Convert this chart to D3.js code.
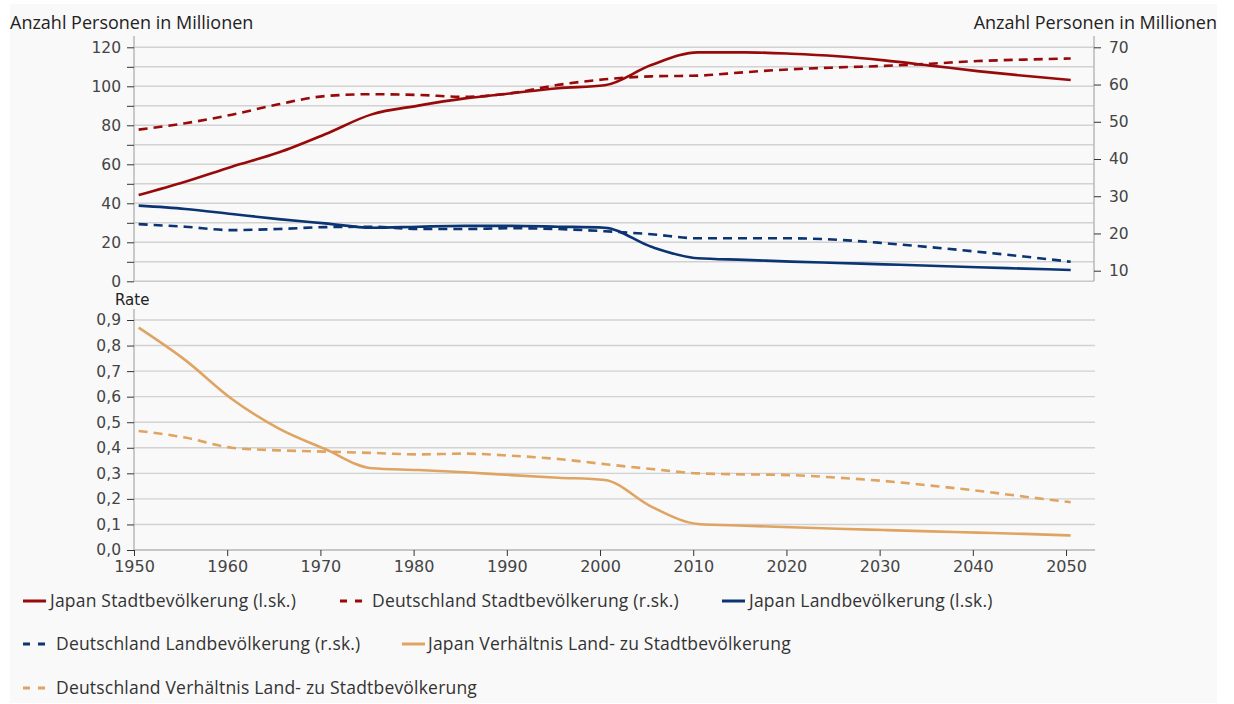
<!DOCTYPE html>
<html>
<head>
<meta charset="utf-8">
<script src="https://cdn.jsdelivr.net/npm/d3@7"></script>
<style>
  body { margin: 0; background: #fff; }
  svg { display: block; font-family: "Open Sans", sans-serif; }
  .grid line { stroke: #d2d2d2; stroke-width: 1.4; }
  .axis path { stroke: #b5b5b5; stroke-width: 1.4; }
  .axis line { stroke: #333; }
  .axis text { fill: #444; font-size: 15.5px; font-family: "DejaVu Sans", sans-serif; }
</style>
</head>
<body>
<svg id="chart" width="1234" height="704"></svg>
<script>
// ---- data ----
const years = [1950, 1955, 1960, 1965, 1970, 1975, 1980, 1985, 1990, 1995, 2000,
               2005, 2010, 2015, 2020, 2025, 2030, 2035, 2040, 2045, 2050];

// upper panel, millions
const japanUrban = [44.3, 51.1, 58.8, 66.0, 75.4, 85.6, 90.1, 93.8, 96.4, 99.0, 100.5,
                    110.9, 117.4, 117.4, 116.7, 115.4, 113.3, 110.6, 107.8, 105.4, 103.2];
const germanyUrban = [47.9, 49.6, 51.9, 54.7, 56.9, 57.4, 57.2, 56.7, 57.7, 59.9, 61.4,
                      62.2, 62.4, 63.3, 64.1, 64.6, 65.0, 65.6, 66.3, 66.7, 67.0];
const japanRural = [38.8, 37.1, 34.5, 31.9, 29.7, 27.5, 28.0, 28.4, 28.4, 28.0, 27.5,
                    17.7, 11.8, 11.0, 10.1, 9.4, 8.7, 8.0, 7.2, 6.5, 5.8];
const germanyRural = [22.5, 21.8, 20.9, 21.2, 21.7, 21.8, 21.2, 21.2, 21.4, 21.2, 20.6,
                      19.8, 18.7, 18.7, 18.7, 18.3, 17.4, 16.3, 15.1, 13.8, 12.4];

// lower panel, rural / urban ratio
const japanRatio = [0.870, 0.743, 0.591, 0.476, 0.395, 0.320, 0.313, 0.304, 0.293, 0.283, 0.274,
                    0.170, 0.102, 0.095, 0.089, 0.083, 0.078, 0.073, 0.068, 0.063, 0.057];
const germanyRatio = [0.466, 0.440, 0.400, 0.390, 0.385, 0.380, 0.374, 0.377, 0.369, 0.356, 0.336,
                      0.317, 0.300, 0.296, 0.293, 0.283, 0.270, 0.252, 0.232, 0.209, 0.187];

const leftTicks = [0, 20, 40, 60, 80, 100, 120];
const leftMinorTicks = d3.range(0, 121, 10);
const rightTicks = [10, 20, 30, 40, 50, 60, 70];
const rateTicks = [0, 0.1, 0.2, 0.3, 0.4, 0.5, 0.6, 0.7, 0.8, 0.9];
const yearTicks = [1950, 1960, 1970, 1980, 1990, 2000, 2010, 2020, 2030, 2040, 2050];

const RED = '#980a0a', NAVY = '#0b3472', ORANGE = '#e0a462';
const DASH = '9,6';

const series = [
  { name: 'Japan Stadtbevölkerung (l.sk.)', values: japanUrban, color: RED, dashed: false, panel: 'top', axis: 'left' },
  { name: 'Deutschland Stadtbevölkerung (r.sk.)', values: germanyUrban, color: RED, dashed: true, panel: 'top', axis: 'right' },
  { name: 'Japan Landbevölkerung (l.sk.)', values: japanRural, color: NAVY, dashed: false, panel: 'top', axis: 'left' },
  { name: 'Deutschland Landbevölkerung (r.sk.)', values: germanyRural, color: NAVY, dashed: true, panel: 'top', axis: 'right' },
  { name: 'Japan Verhältnis Land- zu Stadtbevölkerung', values: japanRatio, color: ORANGE, dashed: false, panel: 'bottom', axis: 'left' },
  { name: 'Deutschland Verhältnis Land- zu Stadtbevölkerung', values: germanyRatio, color: ORANGE, dashed: true, panel: 'bottom', axis: 'left' }
];

// ---- layout ----
const svg = d3.select('#chart');
const plotLeft = 134, plotRight = 1094;

svg.append('rect')
    .attr('x', 10).attr('y', 4)
    .attr('width', 1207).attr('height', 699)
    .attr('fill', '#f9f9f9');

const x = d3.scaleLinear().domain([1950, 2053]).range([plotLeft, plotRight]);
// values are mid-year
const xPos = year => x(year + 0.5);

const yLeft = d3.scaleLinear().domain([0, 120]).range([281.3, 47.3]);
const yRight = d3.scaleLinear().domain([10, 70]).range([270.7, 47.3]);
const yRate = d3.scaleLinear().domain([0, 0.9]).range([550, 320]);

// ---- upper panel ----
const topPanel = svg.append('g');

topPanel.append('g').attr('class', 'grid')
    .selectAll('line')
    .data(leftMinorTicks.filter(d => d > 0))
    .enter().append('line')
    .attr('x1', plotLeft).attr('x2', plotRight)
    .attr('y1', d => yLeft(d)).attr('y2', d => yLeft(d));

topPanel.append('line')
    .attr('x1', plotLeft).attr('x2', plotRight)
    .attr('y1', yLeft(0)).attr('y2', yLeft(0))
    .attr('stroke', '#c8c8c8').attr('stroke-width', 1.6);

// left axis: short ticks every 10, labels every 20
const leftAxis = topPanel.append('g').attr('class', 'axis')
    .attr('transform', `translate(${plotLeft},0)`)
    .call(d3.axisLeft(yLeft).tickValues(leftMinorTicks).tickSize(7).tickPadding(6)
        .tickFormat(d => leftTicks.includes(d) ? d : ''));
leftAxis.select('.domain').attr('d', `M0,36V${yLeft(0)}`);

const rightAxis = topPanel.append('g').attr('class', 'axis')
    .attr('transform', `translate(${plotRight},0)`)
    .call(d3.axisRight(yRight).tickValues(rightTicks).tickSize(7).tickPadding(8));
rightAxis.select('.domain').attr('d', `M0,36V${yLeft(0)}`);
rightAxis.selectAll('text').attr('fill', '#222');

// ---- lower panel ----
const bottomPanel = svg.append('g');

bottomPanel.append('g').attr('class', 'grid')
    .selectAll('line')
    .data(rateTicks.filter(d => d > 0))
    .enter().append('line')
    .attr('x1', plotLeft).attr('x2', plotRight + 1)
    .attr('y1', d => yRate(d)).attr('y2', d => yRate(d));

const rateAxis = bottomPanel.append('g').attr('class', 'axis')
    .attr('transform', `translate(${plotLeft},0)`)
    .call(d3.axisLeft(yRate).tickValues(rateTicks).tickSize(7).tickPadding(6)
        .tickFormat(d => d3.format('.1f')(d).replace('.', ',')));
rateAxis.select('.domain').attr('d', `M0,309V${yRate(0)}`);

const xAxis = bottomPanel.append('g').attr('class', 'axis')
    .attr('transform', `translate(0,${yRate(0)})`)
    .call(d3.axisBottom(x).tickValues(yearTicks).tickSize(6).tickPadding(5).tickFormat(d3.format('d')));
xAxis.select('.domain').attr('d', `M${plotLeft},0H${plotRight + 1}`)
    .attr('stroke', '#c8c8c8').attr('stroke-width', 2);
xAxis.selectAll('text').attr('fill', '#222').style('font-size', '16px');

// ---- lines ----
const scaleFor = s => s.panel === 'bottom' ? yRate : (s.axis === 'right' ? yRight : yLeft);

svg.append('g').selectAll('path')
    .data(series)
    .enter().append('path')
    .attr('fill', 'none')
    .attr('stroke', d => d.color)
    .attr('stroke-width', 2.6)
    .attr('stroke-dasharray', d => d.dashed ? DASH : null)
    .attr('d', s => {
        const yS = scaleFor(s);
        return d3.line()
            .x((v, i) => xPos(years[i]))
            .y(v => yS(v))
            .curve(d3.curveMonotoneX)(s.values);
    });

// ---- titles ----
svg.append('text').attr('x', 10).attr('y', 29)
    .attr('font-size', 18).attr('fill', '#222')
    .text('Anzahl Personen in Millionen');
svg.append('text').attr('x', 1217).attr('y', 29)
    .attr('text-anchor', 'end')
    .attr('font-size', 18).attr('fill', '#222')
    .text('Anzahl Personen in Millionen');
svg.append('text').attr('x', 115).attr('y', 304.5)
    .attr('font-family', '"DejaVu Sans", sans-serif')
    .attr('font-size', 15).attr('fill', '#222')
    .text('Rate');

// ---- legend ----
const legendPos = [
  { sx: 23, tx: 50, y: 601 },
  { sx: 340, tx: 372, y: 601 },
  { sx: 722, tx: 749, y: 601 },
  { sx: 23, tx: 56, y: 644 },
  { sx: 402, tx: 428, y: 644 },
  { sx: 23, tx: 56, y: 688 }
];

const legend = svg.append('g').selectAll('g')
    .data(series)
    .enter().append('g');

legend.append('line')
    .attr('x1', (d, i) => legendPos[i].sx)
    .attr('x2', (d, i) => legendPos[i].sx + 23)
    .attr('y1', (d, i) => legendPos[i].y)
    .attr('y2', (d, i) => legendPos[i].y)
    .attr('stroke', d => d.color)
    .attr('stroke-width', 3)
    .attr('stroke-dasharray', d => d.dashed ? '7,8' : null);

legend.append('text')
    .attr('x', (d, i) => legendPos[i].tx)
    .attr('y', (d, i) => legendPos[i].y)
    .attr('dy', '0.35em')
    .attr('font-size', 17.5)
    .attr('letter-spacing', 0.2)
    .attr('fill', '#333')
    .text(d => d.name);
</script>
</body>
</html>
